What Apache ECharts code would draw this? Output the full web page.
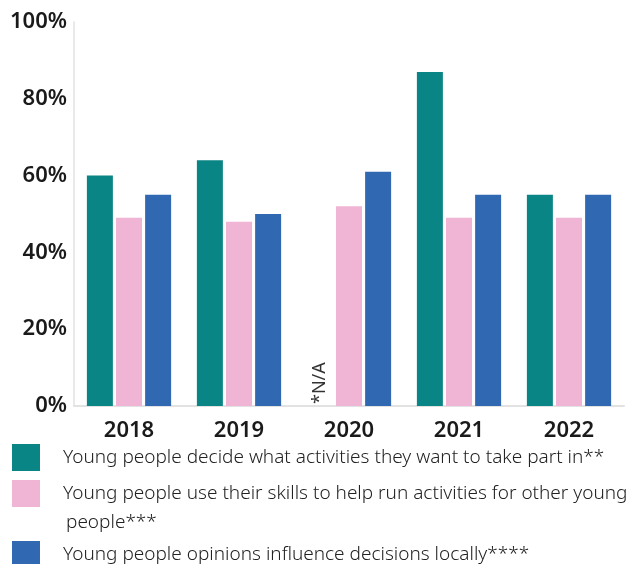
<!DOCTYPE html>
<html>
<head>
<meta charset="utf-8">
<script src="https://cdn.jsdelivr.net/npm/echarts@6/dist/echarts.min.js"></script>
<style>html,body{margin:0;padding:0;background:#fff}#chart{width:639px;height:564px}</style>
</head>
<body>
<div id="chart"></div>
<script>
const years = ['2018', '2019', '2020', '2021', '2022'];
const decideValues = [60, 64, null, 87, 55];
const skillsValues = [49, 48, 52, 49, 49];
const opinionsValues = [55, 50, 61, 55, 55];
const yTicks = [0, 20, 40, 60, 80, 100];
const seriesNames = [
  'Young people decide what activities they want to take part in**',
  'Young people use their skills to help run activities for other young',
  'Young people opinions influence decisions locally****'
];
const legendContinuation = 'people***';
const naLabel = '*N/A';

const colors = ['#0a8585', '#f0b4d4', '#3068b2'];
const chart = echarts.init(document.getElementById('chart'));

const decideData = decideValues.map(v => v === null
  ? { value: 0, label: { show: true, formatter: naLabel, rotate: 90, position: 'insideBottom', distance: 2, align: 'left', verticalAlign: 'middle', fontSize: 18, color: '#333', fontFamily: 'Noto Sans' } }
  : v);

const legendText = { fontSize: 19, color: '#222', fontFamily: 'Noto Sans', fontWeight: 300 };
function legendBlock(name, top) {
  return { data: [name], orient: 'vertical', left: 12, top: top, padding: 0, itemWidth: 28, itemHeight: 27, itemGap: 0,
    icon: 'rect', textStyle: Object.assign({ padding: [0, 0, 0, 18] }, legendText), selectedMode: false };
}

chart.setOption({
  animation: false,
  color: colors,
  grid: { left: 74, right: 15, top: 22, bottom: 158, containLabel: false },
  legend: [legendBlock(seriesNames[0], 444), legendBlock(seriesNames[1], 480), legendBlock(seriesNames[2], 541)],
  graphic: [{ type: 'text', left: 66, top: 513, style: { text: legendContinuation, fontSize: 19, fill: '#222', fontFamily: 'Noto Sans', fontWeight: 300 } }],
  xAxis: {
    type: 'category', data: years,
    axisLine: { show: true, lineStyle: { color: '#e2e2e2', width: 2 } },
    axisTick: { show: false },
    axisLabel: { fontSize: 22, fontWeight: 600, color: '#1a1a1a', margin: 14, fontFamily: 'Noto Sans' }
  },
  yAxis: {
    type: 'value', min: 0, max: 100, interval: 20,
    axisLine: { show: true, lineStyle: { color: '#e2e2e2', width: 1.5 } },
    axisTick: { show: false },
    splitLine: { show: false },
    axisLabel: { formatter: '{value}%', fontSize: 22, fontWeight: 600, color: '#1a1a1a', margin: 7, fontFamily: 'Noto Sans',
      customValues: yTicks }
  },
  series: [
    { name: seriesNames[0], type: 'bar', data: decideData, barWidth: 26, barGap: '12%' },
    { name: seriesNames[1], type: 'bar', data: skillsValues, barWidth: 26, barGap: '12%' },
    { name: seriesNames[2], type: 'bar', data: opinionsValues, barWidth: 26, barGap: '12%' }
  ]
});
</script>
</body>
</html>
